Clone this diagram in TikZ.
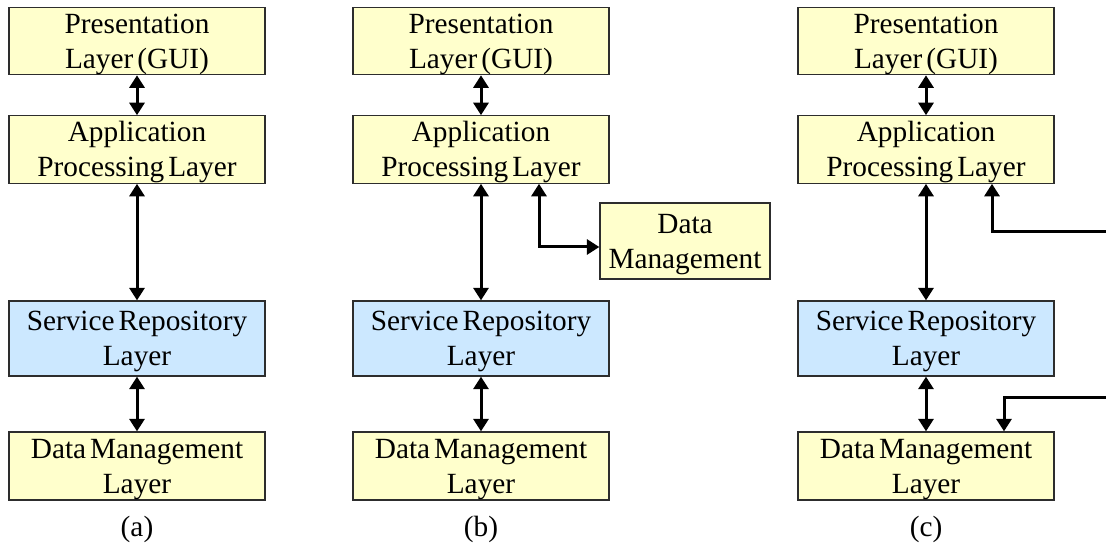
\documentclass[tikz,border=0pt]{standalone}
\usepackage{fontspec}
\setmainfont[WordSpace=0.55]{Liberation Serif}
\usetikzlibrary{arrows.meta}
\definecolor{layeryellow}{RGB}{255,255,204}
\definecolor{layerblue}{RGB}{204,232,255}
\definecolor{edgegray}{RGB}{45,45,45}
\newcommand{\lift}{\rule{0pt}{26pt}}
\tikzset{
  box/.style={draw=edgegray, line width=1.3pt, inner sep=0pt, align=center,
    minimum width=256pt, font=\fontsize{29.3}{35}\selectfont},
  ybox/.style={box, fill=layeryellow},
  bbox/.style={box, fill=layerblue},
  tip/.tip={Triangle[length=12.5pt,width=15pt]},
  link/.style={line width=3pt, black, arrows={-tip}},
  dlink/.style={line width=3pt, black, arrows={tip-tip}},
  caption/.style={font=\fontsize{29.3}{35}\selectfont, inner sep=0pt}
}
\begin{document}
\begin{tikzpicture}[x=1pt,y=-1pt]
\useasboundingbox (0,0) rectangle (1106,545);
% column (a)
\node[ybox, minimum height=66pt] (pa) at (137,41) {\lift Presentation\\Layer (GUI)};
\node[ybox, minimum height=67pt] (aa) at (137,149.5) {\lift Application\\Processing Layer};
\node[bbox, minimum height=75pt] (sa) at (137,338.5) {\lift Service Repository\\Layer};
\node[ybox, minimum height=68pt] (da) at (137,466) {\lift Data Management\\Layer};
\node[caption] (capa) at (137,529) {(a)};
\draw[dlink] (pa) -- (aa);
\draw[dlink] (aa) -- (sa);
\draw[dlink] (sa) -- (da);
% column (b)
\node[ybox, minimum height=66pt] (pb) at (481,41) {\lift Presentation\\Layer (GUI)};
\node[ybox, minimum height=67pt] (ab) at (481,149.5) {\lift Application\\Processing Layer};
\node[bbox, minimum height=75pt] (sb) at (481,338.5) {\lift Service Repository\\Layer};
\node[ybox, minimum height=68pt] (db) at (481,466) {\lift Data Management\\Layer};
\node[ybox, minimum height=76pt, minimum width=170pt] (dmb) at (685,241) {\lift Data\\Management};
\node[caption] (capb) at (481,529) {(b)};
\draw[dlink] (pb) -- (ab);
\draw[dlink] (ab) -- (sb);
\draw[dlink] (sb) -- (db);
\draw[dlink] ([xshift=58pt]ab.south) |- ([yshift=-6pt]dmb.west);
% column (c)
\node[ybox, minimum height=66pt] (pc) at (926,41) {\lift Presentation\\Layer (GUI)};
\node[ybox, minimum height=67pt] (ac) at (926,149.5) {\lift Application\\Processing Layer};
\node[bbox, minimum height=75pt] (sc) at (926,338.5) {\lift Service Repository\\Layer};
\node[ybox, minimum height=68pt] (dc) at (926,466) {\lift Data Management\\Layer};
\node[caption] (capc) at (926,529) {(c)};
\draw[dlink] (pc) -- (ac);
\draw[dlink] (ac) -- (sc);
\draw[dlink] (sc) -- (dc);
\coordinate (c1) at (1106,232);
\coordinate (c2) at (1106,397);
\draw[link] (c1) -| ([xshift=66pt]ac.south);
\draw[link] (c2) -| ([xshift=78pt]dc.north);
\end{tikzpicture}
\end{document}
